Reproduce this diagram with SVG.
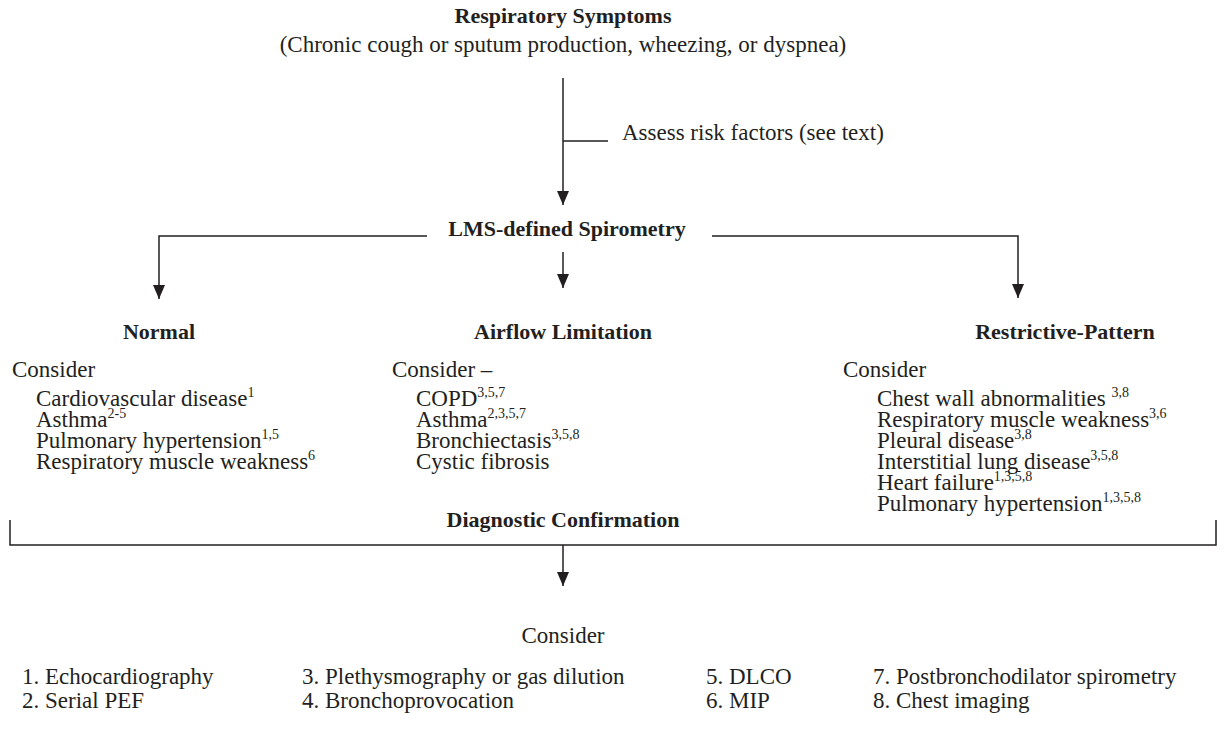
<svg xmlns="http://www.w3.org/2000/svg" width="1227" height="740" viewBox="0 0 1227 740">
<style>
text{font-family:"Liberation Serif","Times New Roman",serif;fill:#231f20;font-size:23px}
.b{font-weight:bold;font-size:22px}
.c{text-anchor:middle}
.s{font-size:14px}
.ln{fill:none;stroke:#231f20;stroke-width:1.5}
</style>
<defs>
<marker id="ah" markerUnits="userSpaceOnUse" markerWidth="14" markerHeight="12" refX="14" refY="6" orient="auto">
<path d="M0,0 L14,6 L0,12 z" fill="#231f20"/>
</marker>
</defs>
<rect width="1227" height="740" fill="#fff"/>
<g id="connectors">
<path class="ln" d="M563,78 V205" marker-end="url(#ah)"/>
<path class="ln" d="M563,141 H608"/>
<path class="ln" d="M427,236 H159 V299" marker-end="url(#ah)"/>
<path class="ln" d="M563,252 V288" marker-end="url(#ah)"/>
<path class="ln" d="M712,236 H1018 V298" marker-end="url(#ah)"/>
<path class="ln" d="M10,520 V545 H1216 V520"/>
<path class="ln" d="M563,545 V586" marker-end="url(#ah)"/>
</g>
<g id="symptoms">
<text class="b c" x="563" y="23">Respiratory Symptoms</text>
<text class="c" x="563" y="52">(Chronic cough or sputum production, wheezing, or dyspnea)</text>
</g>
<g id="risk">
<text x="622" y="140">Assess risk factors (see text)</text>
</g>
<g id="spirometry">
<text class="b c" x="567" y="236">LMS-defined Spirometry</text>
</g>
<g id="normal">
<text class="b c" x="159" y="339">Normal</text>
<text x="12" y="377">Consider</text>
<text x="36" y="406">Cardiovascular disease<tspan class="s" dy="-9">1</tspan></text>
<text x="36" y="427">Asthma<tspan class="s" dy="-9">2-5</tspan></text>
<text x="36" y="448">Pulmonary hypertension<tspan class="s" dy="-9">1,5</tspan></text>
<text x="36" y="469">Respiratory muscle weakness<tspan class="s" dy="-9">6</tspan></text>
</g>
<g id="airflow">
<text class="b c" x="563" y="339">Airflow Limitation</text>
<text x="392" y="377">Consider –</text>
<text x="416" y="406">COPD<tspan class="s" dy="-9">3,5,7</tspan></text>
<text x="416" y="427">Asthma<tspan class="s" dy="-9">2,3,5,7</tspan></text>
<text x="416" y="448">Bronchiectasis<tspan class="s" dy="-9">3,5,8</tspan></text>
<text x="416" y="469">Cystic fibrosis</text>
</g>
<g id="restrictive">
<text class="b c" x="1065" y="339">Restrictive-Pattern</text>
<text x="843" y="377">Consider</text>
<text x="877" y="406">Chest wall abnormalities <tspan class="s" dy="-9">3,8</tspan></text>
<text x="877" y="427">Respiratory muscle weakness<tspan class="s" dy="-9">3,6</tspan></text>
<text x="877" y="448">Pleural disease<tspan class="s" dy="-9">3,8</tspan></text>
<text x="877" y="469">Interstitial lung disease<tspan class="s" dy="-9">3,5,8</tspan></text>
<text x="877" y="490">Heart failure<tspan class="s" dy="-9">1,3,5,8</tspan></text>
<text x="877" y="511">Pulmonary hypertension<tspan class="s" dy="-9">1,3,5,8</tspan></text>
</g>
<g id="confirmation">
<text class="b c" x="563" y="527">Diagnostic Confirmation</text>
</g>
<g id="tests">
<text class="c" x="563" y="643">Consider</text>
<text x="22" y="684">1. Echocardiography</text>
<text x="22" y="708">2. Serial PEF</text>
<text x="302" y="684">3. Plethysmography or gas dilution</text>
<text x="302" y="708">4. Bronchoprovocation</text>
<text x="706" y="684">5. DLCO</text>
<text x="706" y="708">6. MIP</text>
<text x="873" y="684">7. Postbronchodilator spirometry</text>
<text x="873" y="708">8. Chest imaging</text>
</g>
</svg>
